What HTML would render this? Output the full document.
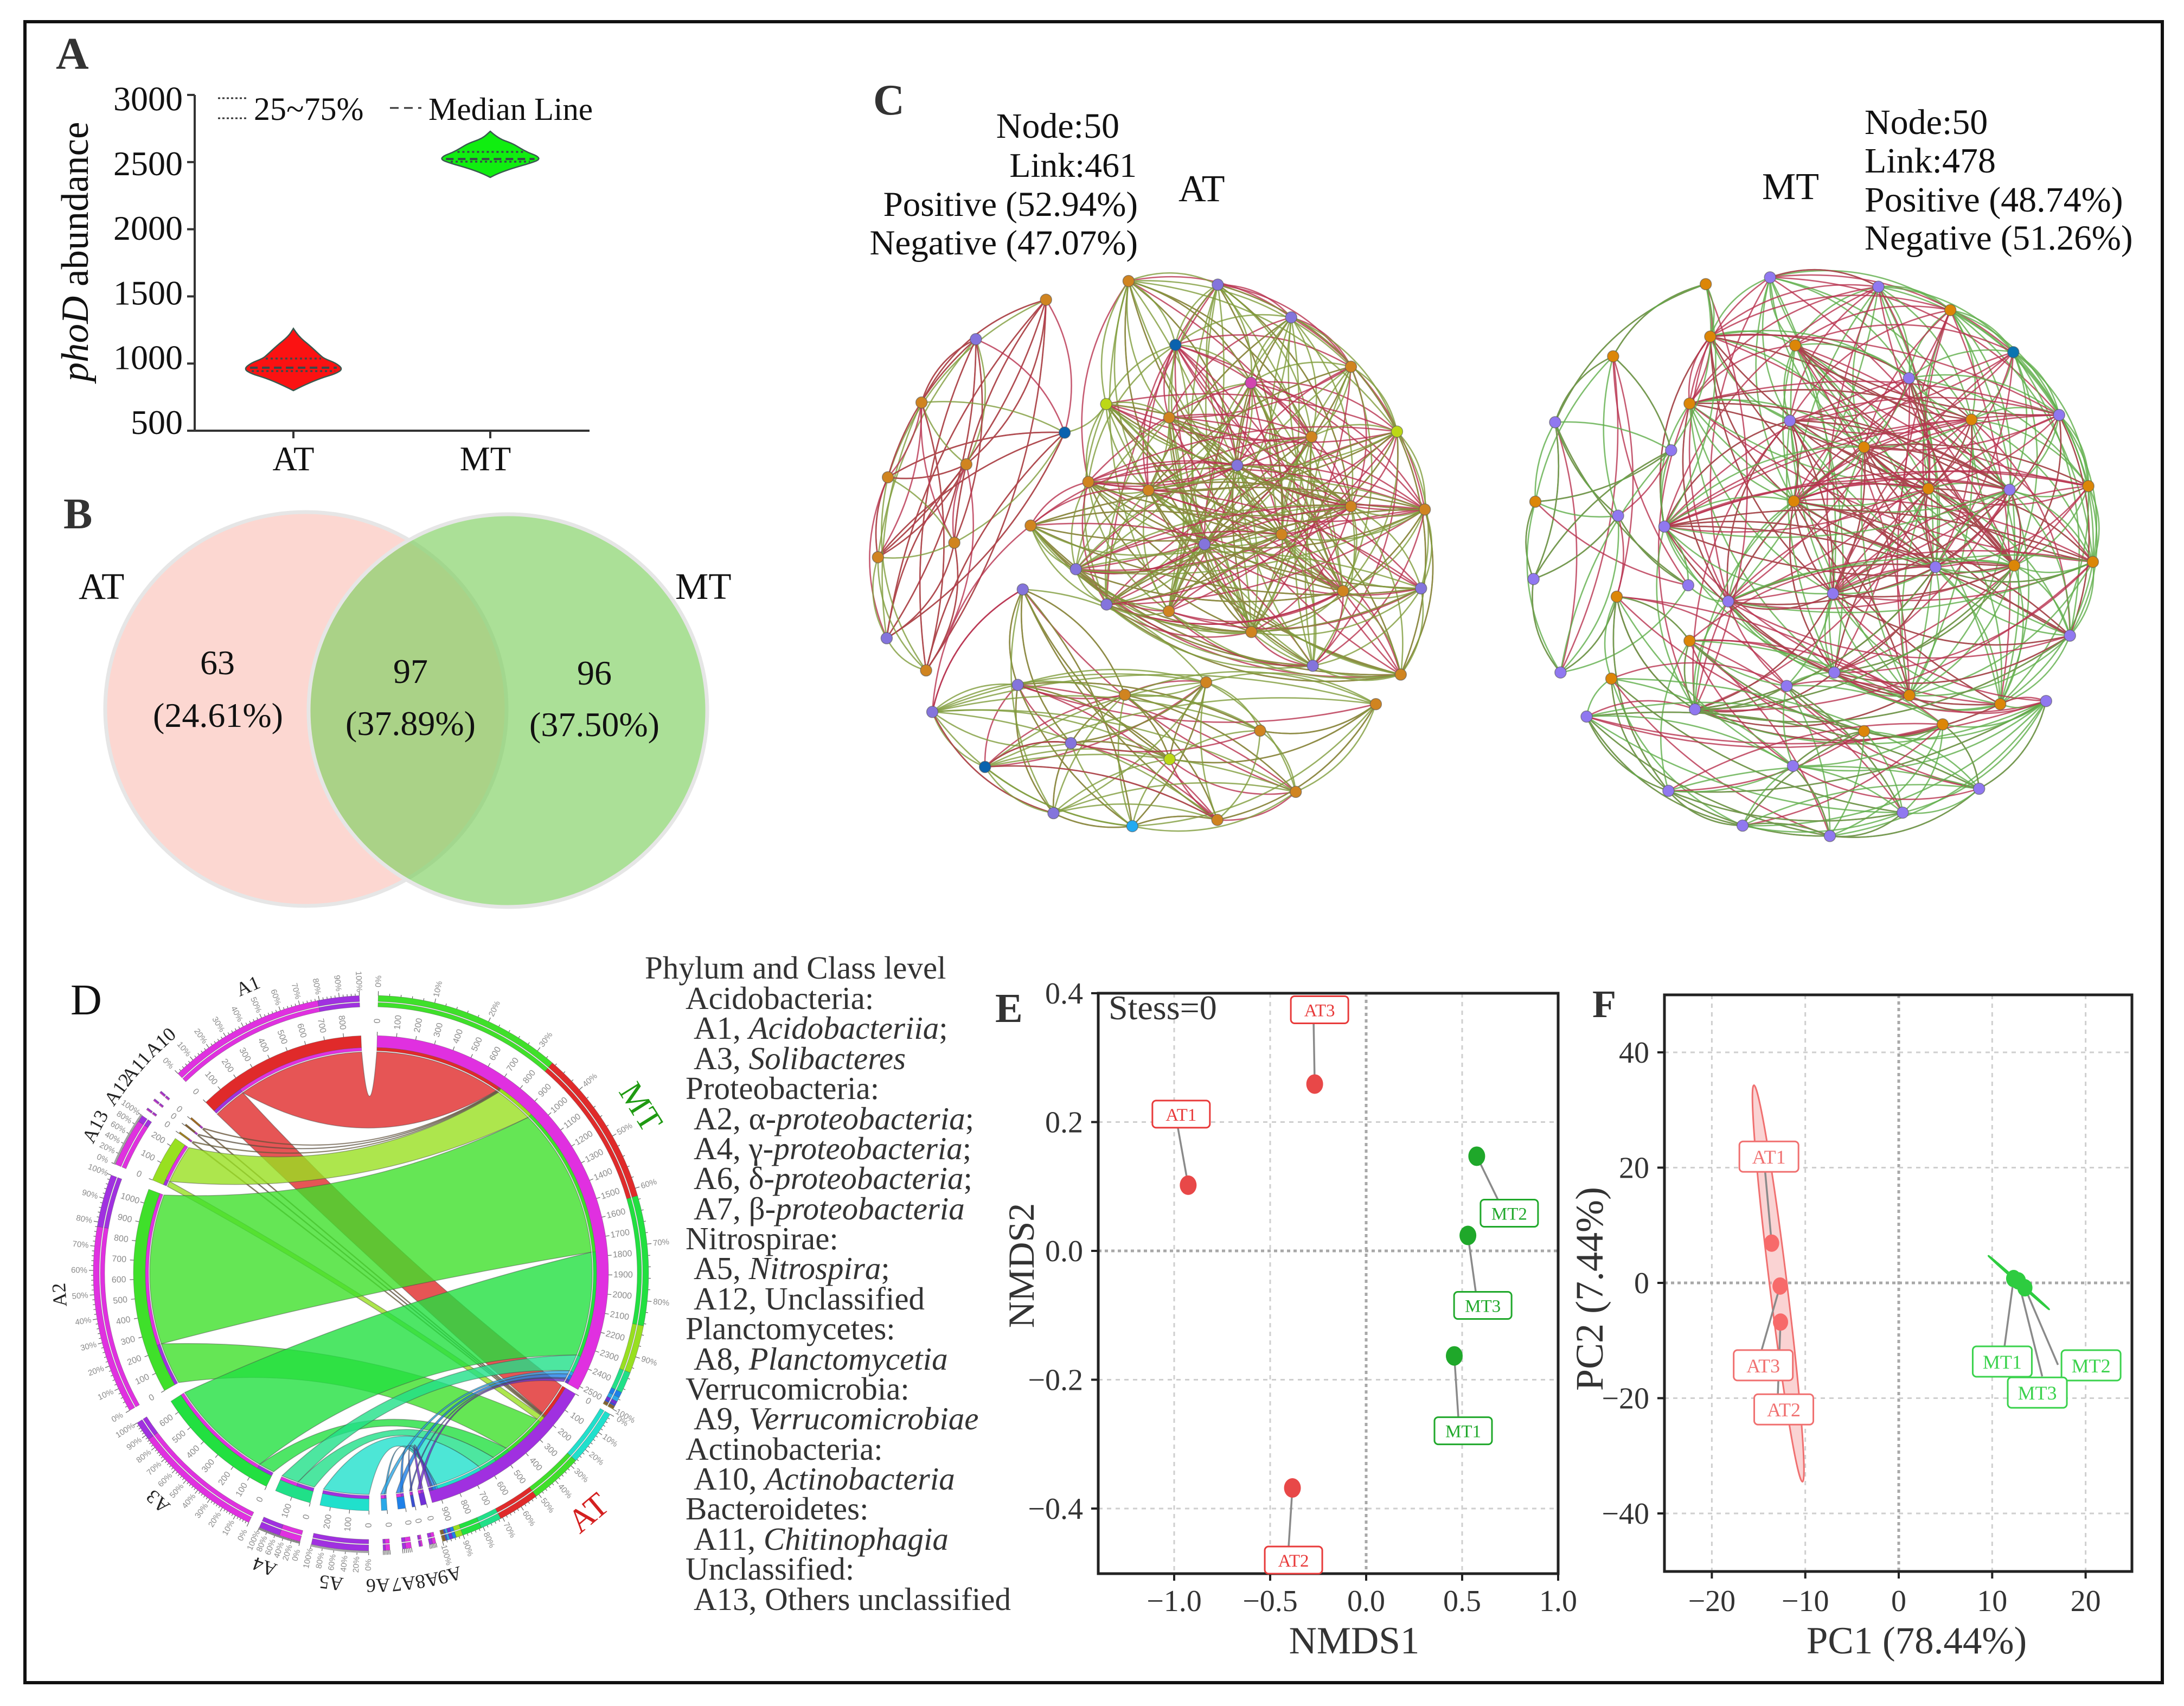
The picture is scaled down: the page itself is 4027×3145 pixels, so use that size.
<!DOCTYPE html>
<html lang="en">
<head>
<meta charset="utf-8">
<title>phoD community composite figure</title>
<style>
html,body{margin:0;padding:0;background:#fff;}
svg{display:block;font-family:"Liberation Serif","DejaVu Serif",serif;}
.dark{fill:#333;}
.blk{fill:#111;}
.letter{font-weight:bold;fill:#333;}
</style>
</head>
<body>
<svg id="fig" xmlns="http://www.w3.org/2000/svg" width="4027" height="3145" viewBox="0 0 4027 3145">
<rect x="0" y="0" width="4027" height="3145" fill="#fff"/>
<rect x="46" y="40" width="3941" height="3062" fill="none" stroke="#111" stroke-width="6"/>

<text class="letter" x="103" y="127" font-size="84">A</text>
<text class="letter" x="117" y="974" font-size="80">B</text>
<text class="letter" x="1610" y="211" font-size="80">C</text>
<text x="130" y="1870" font-size="80" fill="#111">D</text>
<text class="letter" x="1835" y="1884" font-size="76">E</text>
<text class="letter" x="2936" y="1875" font-size="72">F</text>

<!-- Panel A -->
<g id="panelA">
  <text transform="translate(162,464) rotate(-90)" text-anchor="middle" font-size="71" class="blk"><tspan font-style="italic">phoD</tspan> abundance</text>
  <line x1="402" x2="455" y1="181" y2="181" stroke="#333" stroke-width="3" stroke-dasharray="4 4"/>
  <line x1="402" x2="455" y1="218" y2="218" stroke="#333" stroke-width="3" stroke-dasharray="4 4"/>
  <text x="468" y="221" font-size="60" class="blk">25~75%</text>
  <line x1="719" x2="777" y1="199" y2="199" stroke="#333" stroke-width="3" stroke-dasharray="16 10"/>
  <text x="790" y="221" font-size="59" class="blk">Median Line</text>
</g>

<!-- Panel B -->
<g>
  <ellipse cx="564" cy="1307" rx="370" ry="363" fill="#fcd7d1" stroke="#e6e6e6" stroke-width="7"/>
  <ellipse cx="936.5" cy="1310" rx="367.5" ry="362" fill="#7ed060" fill-opacity="0.65" stroke="#e6e6e6" stroke-width="7"/>
  <text x="145" y="1104" font-size="69" class="blk">AT</text>
  <text x="1245" y="1104" font-size="69" class="blk">MT</text>
  <text x="401" y="1243" font-size="64" text-anchor="middle" class="blk">63</text>
  <text x="402" y="1340" font-size="64" text-anchor="middle" class="blk">(24.61%)</text>
  <text x="757" y="1259" font-size="64" text-anchor="middle" class="blk">97</text>
  <text x="757" y="1355" font-size="64" text-anchor="middle" class="blk">(37.89%)</text>
  <text x="1096" y="1262" font-size="64" text-anchor="middle" class="blk">96</text>
  <text x="1096" y="1357" font-size="64" text-anchor="middle" class="blk">(37.50%)</text>
</g>

<!-- Panel C text -->
<g>
  <text x="2064" y="254" font-size="66" text-anchor="end" class="blk">Node:50</text>
  <text x="2096" y="326" font-size="64" text-anchor="end" class="blk">Link:461</text>
  <text x="2098" y="398" font-size="65" text-anchor="end" class="blk">Positive (52.94%)</text>
  <text x="2098" y="469" font-size="65" text-anchor="end" class="blk">Negative (47.07%)</text>
  <text x="2173" y="371" font-size="70" class="blk">AT</text>
  <text x="3249" y="367" font-size="70" class="blk">MT</text>
  <text x="3438" y="247" font-size="66" class="blk">Node:50</text>
  <text x="3438" y="318" font-size="66" class="blk">Link:478</text>
  <text x="3438" y="390" font-size="66" class="blk">Positive (48.74%)</text>
  <text x="3438" y="460" font-size="65" class="blk">Negative (51.26%)</text>
</g>
<g id="netAT"></g>
<g id="netMT"></g>

<!-- Panel D -->
<g id="chord"></g>

<!-- Taxa list -->
<g font-size="59" fill="#333">
  <text x="1189" y="1804">Phylum and Class level</text>
  <text x="1264" y="1860">Acidobacteria:</text>
  <text x="1279" y="1915">A1, <tspan font-style="italic">Acidobacteriia</tspan>;</text>
  <text x="1279" y="1971">A3, <tspan font-style="italic">Solibacteres</tspan></text>
  <text x="1264" y="2026">Proteobacteria:</text>
  <text x="1279" y="2082">A2, α-<tspan font-style="italic">proteobacteria</tspan>;</text>
  <text x="1279" y="2137">A4, γ-<tspan font-style="italic">proteobacteria</tspan>;</text>
  <text x="1279" y="2192">A6, δ-<tspan font-style="italic">proteobacteria</tspan>;</text>
  <text x="1279" y="2248">A7, β-<tspan font-style="italic">proteobacteria</tspan></text>
  <text x="1264" y="2303">Nitrospirae:</text>
  <text x="1279" y="2358">A5, <tspan font-style="italic">Nitrospira</tspan>;</text>
  <text x="1279" y="2414">A12, Unclassified</text>
  <text x="1264" y="2469">Planctomycetes:</text>
  <text x="1279" y="2525">A8, <tspan font-style="italic">Planctomycetia</tspan></text>
  <text x="1264" y="2580">Verrucomicrobia:</text>
  <text x="1279" y="2635">A9, <tspan font-style="italic">Verrucomicrobiae</tspan></text>
  <text x="1264" y="2691">Actinobacteria:</text>
  <text x="1279" y="2746">A10, <tspan font-style="italic">Actinobacteria</tspan></text>
  <text x="1264" y="2801">Bacteroidetes:</text>
  <text x="1279" y="2857">A11, <tspan font-style="italic">Chitinophagia</tspan></text>
  <text x="1264" y="2912">Unclassified:</text>
  <text x="1279" y="2968">A13, Others unclassified</text>
</g>

<g id="panelE">
  <text x="2497" y="3048" font-size="71" text-anchor="middle" class="dark">NMDS1</text>
  <text transform="translate(1906,2333) rotate(-90)" font-size="68" text-anchor="middle" class="dark">NMDS2</text>
</g>
<g id="panelF">
  <text x="3534" y="3048" font-size="71" text-anchor="middle" class="dark">PC1 (78.44%)</text>
  <text transform="translate(2955,2376) rotate(-90)" font-size="72" text-anchor="middle" class="dark">PC2 (7.44%)</text>
</g>
</svg>

<script>
// ---------- Panel A data ----------
const violinYTicks = [500, 1000, 1500, 2000, 2500, 3000];
const violinGroups = ['AT', 'MT'];
const violinATValues = [1261, 1203, 1134, 1065, 1037, 1005, 960, 924, 892, 843, 799];
const violinATDensity = [0, 0.1, 0.33, 0.53, 0.62, 0.85, 1, 0.85, 0.56, 0.24, 0];
const violinMTValues = [2729, 2676, 2640, 2604, 2571, 2547, 2519, 2491, 2455, 2418, 2386];
const violinMTDensity = [0, 0.16, 0.44, 0.6, 0.76, 0.94, 1, 0.8, 0.46, 0.17, 0];
const quartilesAT = [944, 969, 1037];
const quartilesMT = [2503, 2523, 2576];

// ---------- Panel C data: node layout (network units) ----------
const atNodeX = [495,326,195,540,303,114,274,90,111,206,694,909,1086,807,1230,989,640,792,1135,1341,956,597,742,1230,1408,458,1063,877,567,1399,1211,641,791,990,1138,1350,439,427,881,685,1290,221,1011,555,793,348,1097,513,908,703];
const atNodeY = [452,528,650,708,769,794,920,948,1104,1166,416,423,486,539,581,612,653,679,716,706,771,803,819,850,856,887,904,923,971,1008,1013,1039,1052,1092,1157,1174,1010,1194,1189,1213,1231,1246,1282,1306,1337,1352,1400,1441,1454,1466];
const atNodeTypes = ['o','p','o','b','o','o','o','o','p','o','o','p','p','b','o','m','l','o','o','l','p','o','o','o','o','o','o','p','p','p','o','p','o','o','p','o','p','p','o','o','o','p','o','p','l','b','o','p','o','c'];
const atModules = [0,0,0,0,0,0,0,0,0,0,1,1,1,1,1,1,1,1,1,1,1,1,1,1,1,1,1,1,1,1,1,1,1,1,1,1,2,2,2,2,2,2,2,2,2,2,2,2,2,2];
const atGreen = [[0,[4,5,6,8,7,9,2]],[1,[2,4,6,7,9,8,5]],[2,[3,4,8,9]],[3,[6,8,16,5,7,9]],[4,[5,7,8]],[5,[6,7,9]],[6,[7,8,9]],[7,[8,9]],[8,[9]],
[10,[11,13,14,16,17,20,22,26,27,32,33,18,19,30,15]],[11,[13,15,17,18,20,27,30,33,23,26,19,32]],[12,[13,15,18,19,23,26,27,30,22,20,33,32]],[13,[15,16,21,27,32]],[14,[15,18,19,26,30,34,22,27,32]],[15,[17,20,22,26,28,30,23,33,34]],[16,[17,20,21,22,27,31,33,34,23,24,26,30]],[17,[22,27,28,31,32,33,20,23,26,30]],[18,[19,26,27,33,20,30,32,34]],[19,[24,26,29,30,35,20,22,27,33]],[20,[22,26,27,30,31,34,23,28,32,33,35]],[21,[22,27,28,32,35,23,29,33,26]],[22,[27,28,30,32,33,23,26,31,34,35]],[23,[24,27,29,30,34,35]],[24,[26,29,30,35,22,27,33]],[25,[28,31,32,27,33,26,23,24,35,29,34]],[26,[27,29,33,34,30,31,32]],[27,[31,32,35,30,33,34]],[28,[31,33,34,30,29,24,23,26]],[29,[30,33,35,34]],[30,[33,35]],[31,[32,34,26,29,24,35]],[32,[35,33]],[33,[35]],[34,[35]],
[41,[37,39,38,42,44,40,45,47,43,49,48,46]],[36,[37,43,44,47,39,38,49,48]],[37,[38,42,47,44,49]],[38,[39,42,44,46,49,40,48,47,43]],[39,[44,42,43,47,49,48,46,40]],[40,[42,44,46,48,49]],[45,[43,44,47,49,48,46,38,40]],[43,[47,49,44]],[47,[49,48,44,46]],[49,[48,44,46]],[42,[46,48,44]]];
const atRed = [[0,[2,6,3,7,8,9,4]],[1,[2,3,5,8,6,9]],[2,[5,6,7,9]],[3,[8,9,5,7]],[4,[6,7,9,8,5]],[5,[7,8]],[6,[8,9]],
[10,[12,15,18,21,23,20,26,27]],[11,[12,14,19,22,26,23,31]],[12,[14,17,24,20,22]],[13,[14,17,18,20,22,23,26,33,30,29,24]],[14,[17,20,22,23,27,33]],[15,[18,19,21,26,27,32,33,23,24,35]],[16,[18,19,23,26,24,29,30,35]],[17,[18,19,24,26,30,23,33,35]],[18,[21,22,23,28,30,31,32]],[19,[21,22,23,27,28,31,33,32,26,34,35]],[20,[21,23,24,32,35]],[21,[24,26,30,31,33,34,20,23,29,35]],[22,[24,26,29,34,20,23,30,35]],[23,[26,28,31,33]],[24,[27,28,31,33,34,20,32,35]],[25,[21,26,30,33,34,41,22,20,23,24,29,35]],[26,[28,30,31,32,35]],[27,[28,29,30,33]],[28,[32,35,27,26,30]],[29,[31,32]],[30,[31,32,34]],[31,[33,35,23,24,30]],[32,[34]],[33,[34]],
[36,[39,44,46,48,43,37,41,49]],[37,[39,42,44,46,48,43,45,49,47]],[39,[43,45,38,44,46,48]],[38,[43,45,49,44]],[41,[36,47]],[40,[44,37,42,48]],[43,[45,47,44,48]],[44,[48,46]],[47,[49]],[49,[48]],[46,[48]],[42,[43]],[45,[48,43]]];

const mtNodeX = [537,680,921,1081,1221,547,736,331,989,501,1128,724,1323,202,460,889,1388,1032,1213,158,733,342,445,1398,1223,1048,154,498,820,587,339,1347,501,823,214,327,717,990,1192,513,1294,272,889,1064,731,454,1145,975,619,813];
const mtNodeY = [422,409,427,472,553,523,540,561,603,652,683,685,674,688,742,736,811,816,818,841,840,868,889,957,964,967,990,1002,1018,1033,1024,1099,1109,1170,1170,1182,1196,1214,1231,1241,1225,1255,1283,1270,1350,1398,1394,1440,1465,1485];
const mtNodeTypes = ['o','p','p','o','b','o','o','o','p','o','o','p','p','p','p','o','o','o','p','o','o','p','p','o','o','p','p','p','p','p','o','p','o','p','p','o','p','o','o','p','p','p','o','o','p','p','p','p','p','p'];
const mtModules = [0,1,1,1,1,1,1,0,1,1,1,1,1,0,0,1,1,1,1,0,1,0,1,1,1,1,0,0,1,1,2,1,2,1,0,2,2,1,1,1,2,2,2,2,2,2,2,2,2,2];
const mtGreen = [[1,[2,3,5,6,8,10,11,15,17,20,28]],[2,[3,4,6,8,10,12,15,18,20,25,29]],[3,[4,8,10,12,16,17,18,24,23]],[4,[8,10,12,16,18,23,24,31]],[5,[6,8,11,15,17,20,22,28,10,18,25]],[6,[8,11,15,17,20,24,25,28,33,10,12,18]],[8,[10,12,15,16,18,25,24,37]],[9,[11,15,17,20,22,25,29,28,33,18,24,10]],[10,[12,15,16,17,18,23,24,37,38]],[11,[15,20,22,28,29,33,37,17,18,25,24,31]],[12,[16,18,23,24,31,25]],[15,[17,20,22,25,28,29,33,37,38,18,16,23,24,31]],[16,[18,23,24,31,38]],[17,[18,20,24,25,28,31,37,38,23,33]],[18,[23,24,31,37,38]],[20,[22,25,28,29,33,39,24,18,31,37,38]],[22,[25,28,29,33,39,24,18,23,31,37]],[23,[24,31,38,37]],[24,[25,31,37,38]],[25,[28,29,31,33,37,38,39,18,23,24]],[28,[29,33,37,38,39,18,23,31,24]],[29,[33,39,37,24,25,23,38]],[31,[37,38,33]],[33,[37,38,39,24,25]],[37,[38,39]],[38,[39,40]],[39,[24,25,31,40]],
[0,[5,7,13,14,22]],[7,[13,14,19,21]],[13,[14,19,21,26,27]],[14,[19,22,26,34]],[19,[21,26,34]],[21,[27,34,26]],[26,[34]],[27,[34,22,29]],[34,[30]],
[30,[35,32,39,45,44]],[32,[36,42,45,43,39]],[35,[41,44,45,47,48,46]],[41,[44,45,46,47,48,49,42]],[36,[42,43,44,47,49,39,33,28]],[40,[42,44,45,46,47,49,48,43]],[42,[43,44,46,47,49,48]],[43,[44,46,47,49]],[44,[45,47,48,49]],[45,[46,47,48,49]],[46,[47,49,48]],[47,[48,49]],[48,[49]]];
const mtRed = [[1,[2,4,9,12,24,29]],[2,[5,9,11,17,22,24,28]],[3,[5,6,11,15,20,25,37,38]],[4,[6,11,15,17,20,25,28]],[5,[9,10,12,18,24,25,29,17,20,22,28]],[6,[9,10,12,16,18,23,37]],[8,[11,17,20,24,22,29,33]],[9,[10,12,18,23,24,29,39]],[10,[11,17,20,22,25,28,29,31]],[11,[12,17,18,25,24,39,20,28,29,22]],[12,[15,17,20,22,28,24,25,31]],[15,[16,18,23,24,39,31,28,25,17]],[16,[17,20,22,25,28,33]],[17,[22,23,29,33,39,24,25]],[18,[20,22,25,28,29,33,24]],[20,[23,24,31,37,38,25,17,28,33]],[22,[23,31,37,38,17,24,25]],[23,[25,28,29,33]],[24,[28,29,33,39]],[25,[39]],[28,[31,40,24,25,18]],[29,[31,38,25,28]],[31,[39]],[33,[39,40,25,31]],[37,[40]],[39,[23,28,25,37,38]],
[0,[7,9,13,39]],[7,[13,14,30,27,34]],[13,[21,34,26,27]],[14,[21,26,19]],[19,[26,27]],[21,[27,26,30]],[26,[34]],[34,[30]],[30,[39,32]],
[30,[36,42,45,39,43]],[32,[39,47,44,49,42,46,33,37,25]],[35,[45,36,47,49]],[41,[45,46,48,49,43,39]],[36,[37,42,46,47,39,29]],[40,[41,45,46,38]],[42,[44,48,43,45]],[43,[45,46,48]],[44,[46,49]],[45,[48,49,47]],[46,[49]],[47,[49]],[48,[49]]];

// ---------- Panel D data ----------
const chordTaxa = ['A1','A10','A11','A12','A13','A2','A3','A4','A5','A6','A7','A8','A9'];
const flowToMT = [705,5,5,5,215,840,580,95,0,20,25,8,15];
const flowToAT = [185,5,5,5,30,235,88,95,255,10,15,8,15];

// ---------- Panel E data ----------
const nmdsXTicks = [-1.0,-0.5,0.0,0.5,1.0];
const nmdsYTicks = [-0.4,-0.2,0.0,0.2,0.4];
const nmdsNames = ['AT1','AT2','AT3','MT1','MT2','MT3'];
const nmds1 = [-0.927,-0.384,-0.268,0.459,0.576,0.53];
const nmds2 = [0.102,-0.368,0.259,-0.163,0.147,0.024];

// ---------- Panel F data ----------
const pcaXTicks = [-20,-10,0,10,20];
const pcaYTicks = [-40,-20,0,20,40];
const pcaNames = ['AT1','AT2','AT3','MT1','MT2','MT3'];
const pc1 = [-13.6,-12.65,-12.7,12.3,13.5,12.8];
const pc2 = [6.9,-6.8,-0.55,0.75,-0.85,0.35];
const atEllipseEnds = [-15.5,34.3,-10.3,-34.5];
const mtEllipseEnds = [9.6,4.7,16.1,-4.6];

// ---------- helpers ----------
const NS = 'http://www.w3.org/2000/svg';
function mk(tag, attrs, parent){
  const e = document.createElementNS(NS, tag);
  for (const k in attrs) e.setAttribute(k, attrs[k]);
  parent.appendChild(e);
  return e;
}
function fmtMinus(s){ return String(s).replace('-', '\u2212'); }
const fig = document.getElementById('fig');

// ---------- Panel A ----------
(function(){
  const g = document.getElementById('panelA');
  const vy = v => 794 - (v - 500) * 0.2476;
  const labelY = v => 203.5 + (3000 - v) * 0.2386;
  const cx = i => 541 + i * 363;
  const halfW = 91.5;
  const yAxis = mk('line',{x1:359,x2:359,y1:175,y2:794,stroke:'#333','stroke-width':4},g);
  
  
  const xAxis = mk('line',{x1:345,x2:1087,y1:794,y2:794,stroke:'#333','stroke-width':4},g);
  
  
  violinYTicks.forEach(t=>{
    const tk = mk('line',{x1:345,x2:359,y1:vy(t),y2:vy(t),stroke:'#333','stroke-width':4},g);
    
    
    const lb = mk('text',{x:337,y:labelY(t),'text-anchor':'end','font-size':64,fill:'#111'},g);
    
    
    lb.textContent = t;
  });
  violinGroups.forEach((name,i)=>{
    const tk = mk('line',{x1:cx(i),x2:cx(i),y1:794,y2:808,stroke:'#333','stroke-width':4},g);
    
    
    const lb = mk('text',{x:cx(i)-(i?9:0),y:867,'text-anchor':'middle','font-size':63,fill:'#111'},g);
    
    
    lb.textContent = name;
  });
  function smooth(pts){
    let d = 'M'+pts[0][0]+' '+pts[0][1];
    for(let i=1;i<pts.length-1;i++){
      const mx=(pts[i][0]+pts[i+1][0])/2, my=(pts[i][1]+pts[i+1][1])/2;
      d += ' Q'+pts[i][0]+' '+pts[i][1]+' '+mx+' '+my;
    }
    const l=pts[pts.length-1];
    return d+' L'+l[0]+' '+l[1];
  }
  function densAt(vals,dens,v){
    for(let i=0;i<vals.length-1;i++){
      if(v<=vals[i]&&v>=vals[i+1]){
        const f=(vals[i]-v)/(vals[i]-vals[i+1]);
        return dens[i]+f*(dens[i+1]-dens[i]);
      }
    }
    return 0;
  }
  function violin(i,vals,dens,q,color){
    const c=cx(i);
    const right=vals.map((v,k)=>[c+dens[k]*halfW,vy(v)]);
    const left=vals.map((v,k)=>[c-dens[k]*halfW,vy(v)]).reverse();
    const d=smooth(right)+' '+smooth(left).replace('M','L')+' Z';
    const p=mk('path',{d:d,fill:color,stroke:'#3a5a50','stroke-width':2.5},g);
    
    
    q.forEach((v,k)=>{
      const w=densAt(vals,dens,v)*halfW*0.9;
      const ln=mk('line',{x1:c-w,x2:c+w,y1:vy(v),y2:vy(v),stroke:'#3a4a4a','stroke-width':k==1?4:3.5,'stroke-dasharray':k==1?'14 8':'4 5'},g);
      
      
    });
  }
  violin(0,violinATValues,violinATDensity,quartilesAT,'#fb1212');
  violin(1,violinMTValues,violinMTDensity,quartilesMT,'#10ee10');
})();

// ---------- Panel C ----------
const nodeColors = {o:'#d08420',p:'#8474dc',b:'#0a62ae',l:'#bcd816',m:'#d246b0',c:'#22aaf2'};
function drawNet(gid, nx, ny, types, modules, green, red, x0, kx, y0, ky, greenCol, redCol, ncol){
  const g = document.getElementById(gid);
  const X = v => x0 + kx*v, Y = v => y0 + ky*v;
  const px = nx.map(X), py = ny.map(Y);
  const centers = [0,1,2].map(m=>{
    const ids = px.map((_,i)=>i).filter(i=>modules[i]===m);
    const cxx = ids.reduce((s,i)=>s+px[i],0)/ids.length;
    const cyy = ids.reduce((s,i)=>s+py[i],0)/ids.length;
    const rad = Math.max.apply(null, ids.map(i=>Math.hypot(px[i]-cxx,py[i]-cyy)));
    return [cxx,cyy,rad];
  });
  function edge(a,b,col){
    const x1=px[a],y1=py[a],x2=px[b],y2=py[b];
    const mx=(x1+x2)/2,my=(y1+y2)/2,dx=x2-x1,dy=y2-y1;
    const c=centers[modules[a]];
    let nxx=-dy,nyy=dx,k=0.22;
    const dist=Math.hypot(mx-c[0],my-c[1]);
    if(dist<0.4*c[2]){
      k=0.15;
      if((a+b)%2){nxx=-nxx;nyy=-nyy;}
    } else if((mx-c[0])*nxx+(my-c[1])*nyy<0){nxx=-nxx;nyy=-nyy;}
    const p=mk('path',{d:'M'+x1+' '+y1+' Q'+(mx+nxx*k)+' '+(my+nyy*k)+' '+x2+' '+y2,fill:'none',stroke:col,'stroke-width':2.6,'stroke-opacity':0.8},g);
    
    
  }
  const n=Math.max(green.length,red.length);
  for(let i=0;i<n;i++){
    if(green[i]) green[i][1].forEach(t=>edge(green[i][0],t,greenCol));
    if(red[i]) red[i][1].forEach(t=>edge(red[i][0],t,redCol));
  }
  px.forEach((x,i)=>{
    const c=mk('ellipse',{cx:x,cy:py[i],rx:10.5,ry:10.5,fill:ncol[types[i]],stroke:'#555','stroke-width':1.5,'stroke-opacity':.6},g);
    
    
  });
}
drawNet('netAT',atNodeX,atNodeY,atNodeTypes,atModules,atGreen,atRed,1550,0.765,120,0.957,'#7f9c3c','#b8324f',nodeColors);
drawNet('netMT',mtNodeX,mtNodeY,mtNodeTypes,mtModules,mtGreen,mtRed,2700,0.829,120,0.957,'#5fae4a','#b8324f',Object.assign({},nodeColors,{p:'#9078f0',o:'#dc8608',b:'#0a74b0'}));

// ---------- Panel D ----------
(function(){
  const g = document.getElementById('chord');
  const cx=684, cy=2347, K=0.0468;
  const rad = a => a*Math.PI/180;
  const P = (r,a)=>[cx+r*Math.sin(rad(a)), cy-r*Math.cos(rad(a))];
  const col = {A1:'#e02a2a',A2:'#3fe02a',A3:'#22e040',A4:'#20e088',A5:'#20e0cc',A6:'#2aa8e8',A7:'#1e80e8',A8:'#3a50d0',A9:'#7030d8',A10:'#a06a20',A11:'#806030',A12:'#a08020',A13:'#98e020',MT:'#e030e0',AT:'#a030e0'};
  const order = ['MT','AT','A9','A8','A7','A6','A5','A4','A3','A2','A13','A12','A11','A10','A1'];
  const gapsAfter = [1.2,1.4,1.4,1.6,2.6,3,2.4,2.4,3,2.4,1.5,1.9,1.6,5,2];
  const sum = arr => arr.reduce((a,b)=>a+b,0);
  const size = n => n==='MT'?sum(flowToMT):n==='AT'?sum(flowToAT):flowToMT[chordTaxa.indexOf(n)]+flowToAT[chordTaxa.indexOf(n)];
  const sect = {};
  let ang = 1.5;
  order.forEach((n,i)=>{ sect[n]={a1:ang,a2:ang+size(n)*K,v:size(n)}; ang=sect[n].a2+gapsAfter[i]; });

  function band(r1,r2,a1,a2){
    const p1=P(r2,a1),p2=P(r2,a2),p3=P(r1,a2),p4=P(r1,a1);
    const big=(a2-a1)>180?1:0;
    return 'M'+p1+' A'+r2+' '+r2+' 0 '+big+' 1 '+p2+' L'+p3+' A'+r1+' '+r1+' 0 '+big+' 0 '+p4+' Z';
  }
  const R=408;
  function ctrl(a,b){
    const p=P(R,a),q=P(R,b);
    return [cx+0.6*((p[0]+q[0])/2-cx), cy+0.6*((p[1]+q[1])/2-cy)];
  }
  function ribbon(a1,a2,b1,b2,color){
    const d='M'+P(R,a1)+' A'+R+' '+R+' 0 0 1 '+P(R,a2)+' Q'+ctrl(a2,b1)+' '+P(R,b1)+' A'+R+' '+R+' 0 0 1 '+P(R,b2)+' Q'+ctrl(b2,a1)+' '+P(R,a1)+' Z';
    const p=mk('path',{d:d,fill:color,'fill-opacity':0.8,stroke:'#444','stroke-width':1.5,'stroke-opacity':0.45},g);
    
    
  }
  function seg(r1,r2,a1,a2,color,name){
    const p=mk('path',{d:band(r1,r2,a1,a2),fill:color,stroke:'#555','stroke-width':0.8,'stroke-opacity':.5},g);
    
    
  }
  // ribbons
  let mtPos=sect.MT.a1, atPos=sect.AT.a1;
  const sinkThin=[];
  chordTaxa.forEach((n,i)=>{
    const s=sect[n], at=flowToAT[i]*K, mt=flowToMT[i]*K;
    if(at>0){ ribbon(s.a1,s.a1+at,atPos,atPos+at,col[n]); sinkThin.push(['AT',atPos,atPos+at,n]); }
    if(mt>0){ ribbon(s.a1+at,s.a1+at+mt,mtPos,mtPos+mt,col[n]); sinkThin.push(['MT',mtPos,mtPos+mt,n]); }
    atPos+=at; mtPos+=mt;
  });
  // tracks
  order.forEach(n=>{
    const s=sect[n];
    seg(416,438,s.a1,s.a2,col[n],'chord-sector-'+n.toLowerCase());
    if(n!=='MT'&&n!=='AT'){
      const i=chordTaxa.indexOf(n), at=flowToAT[i]*K;
      if(at>0) seg(410,416,s.a1,s.a1+at,col.AT,'chord-inner-track');
      if(flowToMT[i]>0) seg(410,416,s.a1+at,s.a2,col.MT,'chord-inner-track');
    }
  });
  sinkThin.forEach(t=>seg(410,416,t[1],t[2],col[t[3]],'chord-inner-track'));
  // outer rings sorted by share
  order.forEach(n=>{
    const s=sect[n];
    let parts;
    if(n==='MT') parts=chordTaxa.map((t,i)=>[t,flowToMT[i]]);
    else if(n==='AT') parts=chordTaxa.map((t,i)=>[t,flowToAT[i]]);
    else { const i=chordTaxa.indexOf(n); parts=[['MT',flowToMT[i]],['AT',flowToAT[i]]]; }
    parts=parts.filter(p=>p[1]>0).sort((a,b)=>b[1]-a[1]);
    let a=s.a1;
    parts.forEach(p=>{
      const w=p[1]*K;
      seg(501,512,a,a+w,col[p[0]],'chord-outer-ring');
      seg(491,499,a,a+w,col[p[0]],'chord-second-ring');
      a+=w;
    });
  });
  // ticks and tick labels
  function radialText(r,a,str,size,color,name){
    const p=P(r,a);
    const rot=a>180&&a<360?a+90:a-90;
    const t=mk('text',{transform:'translate('+p[0]+','+p[1]+') rotate('+rot+')','text-anchor':'middle','dominant-baseline':'central','font-size':size,fill:color,'font-family':'Liberation Sans, sans-serif'},g);
    
    
    t.textContent=str;
  }
  order.forEach(n=>{
    const s=sect[n], span=s.a2-s.a1;
    for(let v=0;v<=s.v;v+=100){
      const a=s.a1+v*K, p1=P(438,a), p2=P(445,a);
      const tk=mk('line',{x1:p1[0],y1:p1[1],x2:p2[0],y2:p2[1],stroke:'#666','stroke-width':1.2},g);
      
      
      if(span>2.5||v===0) radialText(465,a,v,16,'#8a8a8a','chord-value-label');
    }
    const stepPct = span>=30?10:20;
    if(span>=1.3){
      for(let pc=0;pc<=100;pc+=2){
        const a=s.a1+span*pc/100;
        const isMajor=pc%stepPct===0;
        if(span<8&&!isMajor) continue;
        const p1=P(512,a),p2=P(isMajor?520:516,a);
        const tk=mk('line',{x1:p1[0],y1:p1[1],x2:p2[0],y2:p2[1],stroke:'#555','stroke-width':1.1},g);
        
        
        if(isMajor&&span>=5) radialText(538,a,pc+'%',15,'#8a8a8a','chord-percent-label');
      }
    }
  });
  // sector titles
  const labelAngles={A1:336.8,A10:317.6,A11:311.3,A12:306,A13:298,A2:266,A3:223,A4:199.9,A5:187.3,A6:178.7,A7:174,A8:169.6,A9:165.4};
  Object.keys(labelAngles).forEach(n=>{
    const a=labelAngles[n],p=P(576,a);
    const t=mk('text',{transform:'translate('+p[0]+','+p[1]+') rotate('+a+')','text-anchor':'middle','dominant-baseline':'central','font-size':36,fill:'#222'},g);
    
    
    t.textContent=n;
  });
  const pMT=P(584,58.4);
  const tMT=mk('text',{transform:'translate('+pMT[0]+','+pMT[1]+') rotate(58)','text-anchor':'middle','dominant-baseline':'central','font-size':62,fill:'#1f9a12'},g);
  
  
  tMT.textContent='MT';
  const pAT=P(597,137.8);
  const tAT=mk('text',{transform:'translate('+pAT[0]+','+pAT[1]+') rotate(-40)','text-anchor':'middle','dominant-baseline':'central','font-size':62,fill:'#d42020'},g);
  
  
  tAT.textContent='AT';
})();

// ---------- Shared scatter panel frame ----------
function scatterFrame(g,box,X,Y,xt,yt,fmt,fs){
  const gridStyle={stroke:'#cfcfcf','stroke-width':3,'stroke-dasharray':'8 8'};
  const zeroStyle={stroke:'#a8a8a8','stroke-width':5,'stroke-dasharray':'6 6'};
  xt.forEach(t=>{
    const l=mk('line',Object.assign({x1:X(t),x2:X(t),y1:box.t,y2:box.b},t===0?zeroStyle:gridStyle),g);
    
    
    const k=mk('line',{x1:X(t),x2:X(t),y1:box.b,y2:box.b+13,stroke:'#222','stroke-width':4},g);
    
    
    const lb=mk('text',{x:X(t),y:2970,'text-anchor':'middle','font-size':fs,fill:'#333'},g);
    
    
    lb.textContent=fmtMinus(fmt(t));
  });
  yt.forEach(t=>{
    const l=mk('line',Object.assign({x1:box.l,x2:box.r,y1:Y(t),y2:Y(t)},t===0?zeroStyle:gridStyle),g);
    
    
    const k=mk('line',{x1:box.l-13,x2:box.l,y1:Y(t),y2:Y(t),stroke:'#222','stroke-width':4},g);
    
    
    const lb=mk('text',{x:box.l-28,y:Y(t)+19,'text-anchor':'end','font-size':fs,fill:'#333'},g);
    
    
    lb.textContent=fmtMinus(fmt(t));
  });
  const f=mk('rect',{x:box.l,y:box.t,width:box.r-box.l,height:box.b-box.t,fill:'none',stroke:'#222','stroke-width':5},g);
  
  
}
function sampleMarks(g,names,xs,ys,X,Y,offsets,leaders,bw,bh,fs,red,green,labelRed,labelGreen){
  names.forEach((n,i)=>{
    const px=X(xs[i]),py=Y(ys[i]),o=offsets[i],ld=leaders[i];
    const ln=mk('line',{x1:px,y1:py,x2:px+o[0]+ld[0],y2:py+o[1]+ld[1],stroke:'#8a8a8a','stroke-width':3.5},g);
    
    
  });
  names.forEach((n,i)=>{
    const px=X(xs[i]),py=Y(ys[i]);
    const c=mk('ellipse',{cx:px,cy:py,rx:fs>33?14:15.5,ry:fs>33?16:18,fill:n[0]==='A'?red:green},g);
    
    
  });
  names.forEach((n,i)=>{
    const px=X(xs[i]),py=Y(ys[i]),o=offsets[i],col=n[0]==='A'?labelRed:labelGreen;
    const r=mk('rect',{x:px+o[0]-bw/2,y:py+o[1]-bh/2,width:bw,height:bh,rx:7,fill:'#fff',stroke:col,'stroke-width':3},g);
    
    
    const t=mk('text',{x:px+o[0],y:py+o[1]+fs*0.36,'text-anchor':'middle','font-size':fs,fill:col},g);
    
    
    t.textContent=n;
  });
}

// ---------- Panel E ----------
(function(){
  const g=document.getElementById('panelE');
  const box={l:2025,r:2873,t:1831,b:2901};
  const X=v=>2519+354*v, Y=v=>2306-1187.5*v;
  scatterFrame(g,box,X,Y,nmdsXTicks,nmdsYTicks,v=>v.toFixed(1),56);
  const st=mk('text',{x:2044,y:1879,'font-size':64,fill:'#333'},g);
  
  
  st.textContent='Stess=0';
  const labelOffsets=[[-13,-131],[2,133],[9,-137],[16.5,138],[60,105],[27.5,129]];
  const leaderOffsets=[[-6,25],[-9,-25],[-11,25],[-9,-25],[-21,-25],[-13,-25]];
  sampleMarks(g,nmdsNames,nmds1,nmds2,X,Y,labelOffsets,leaderOffsets,106,50,33,'#e84848','#1fa82a','#e83a3a','#1fa82a');
})();

// ---------- Panel F ----------
(function(){
  const g=document.getElementById('panelF');
  const box={l:3069,r:3931,t:1834,b:2897};
  const X=v=>3501+17.23*v, Y=v=>2365-10.625*v;
  scatterFrame(g,box,X,Y,pcaXTicks,pcaYTicks,v=>String(v),56);
  function ell(ends,ry,fill,fo,stroke,name){
    const x1=X(ends[0]),y1=Y(ends[1]),x2=X(ends[2]),y2=Y(ends[3]);
    const cx=(x1+x2)/2,cy=(y1+y2)/2,len=Math.hypot(x2-x1,y2-y1)/2;
    const ang=Math.atan2(y2-y1,x2-x1)*180/Math.PI;
    const e=mk('ellipse',{cx:cx,cy:cy,rx:len,ry:ry,transform:'rotate('+ang+' '+cx+' '+cy+')',fill:fill,'fill-opacity':fo,stroke:stroke,'stroke-width':3},g);
    
    
  }
  ell(atEllipseEnds,16,'#f5a8a8',0.5,'#f07070','at-confidence-ellipse');
  ell(mtEllipseEnds,1.6,'#2ecc40',1,'#2ecc40','mt-confidence-ellipse');
  const labelOffsets=[[-5,-159.5],[6,161],[-31,146],[-21,153],[122,143],[35,206]];
  const leaderOffsets=[[-7,28],[-11,-26],[-3,-28],[4,-27],[-61,-1],[9,-30]];
  sampleMarks(g,pcaNames,pc1,pc2,X,Y,labelOffsets,leaderOffsets,109,56,36,'#f76a6a','#2ecc40','#f07070','#3ad24c');
})();
</script>
</body>
</html>
